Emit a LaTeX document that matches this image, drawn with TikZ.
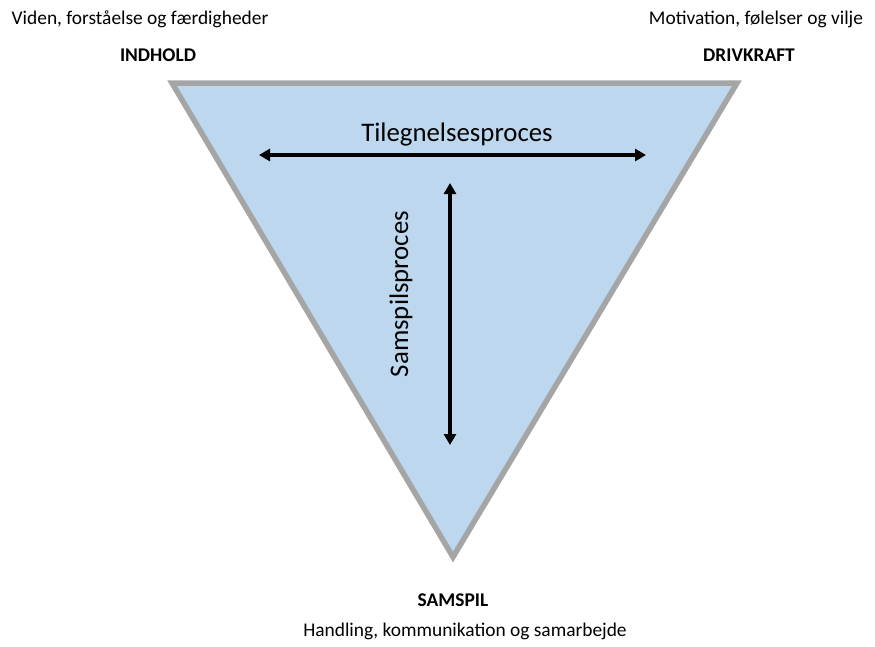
\documentclass[tikz,border=0pt]{standalone}
\usepackage{fontspec}
\setmainfont{Carlito}
\usetikzlibrary{arrows.meta, positioning}
\definecolor{triFill}{HTML}{BDD7EE}
\definecolor{triEdge}{HTML}{A5A5A5}

\begin{document}
\begin{tikzpicture}[
    x=1pt, y=-1pt,
    caption/.style={font=\fontsize{19.4}{22}\selectfont, inner sep=0pt},
    corner/.style={font=\fontsize{19.4}{22}\selectfont\bfseries, inner sep=0pt},
    proc/.style={font=\fontsize{26.8}{30}\selectfont, inner sep=0pt},
    arrow/.style={{Triangle[length=11pt,width=12pt]}-{Triangle[length=11pt,width=12pt]}, line width=3.2pt},
]
    \useasboundingbox (0,0) rectangle (875,646);

    % the triangle
    \coordinate (tl) at (172,83);
    \coordinate (tr) at (737,83);
    \coordinate (bot) at (453,557);
    \draw[fill=triFill, draw=triEdge, line width=5.5pt, line join=miter] (tl) -- (tr) -- (bot) -- cycle;

    % corner labels
    \node[caption] (viden)  at (140,19)  {Viden, forståelse og færdigheder};
    \node[corner]  (indh)   at (158,55)  {INDHOLD};
    \node[caption] (motiv)  at (756,19)  {Motivation, følelser og vilje};
    \node[corner]  (drivk)  at (749,55)  {DRIVKRAFT};
    \node[corner]  (samsp)  at (453,600) {SAMSPIL};
    \node[caption] (handl)  at (465,631) {Handling, kommunikation og samarbejde};

    % processes
    \coordinate (hl) at (259,155);
    \coordinate (hr) at (646,155);
    \coordinate (vt) at (450,183);
    \coordinate (vb) at (450,445);
    \draw[arrow] (hl) -- (hr);
    \draw[arrow] (vt) -- (vb);
    \node[proc] (tileg) at (457,134) {Tilegnelsesproces};
    \node[proc, rotate=90] (samproc) at (401,294) {Samspilsproces};
\end{tikzpicture}
\end{document}
